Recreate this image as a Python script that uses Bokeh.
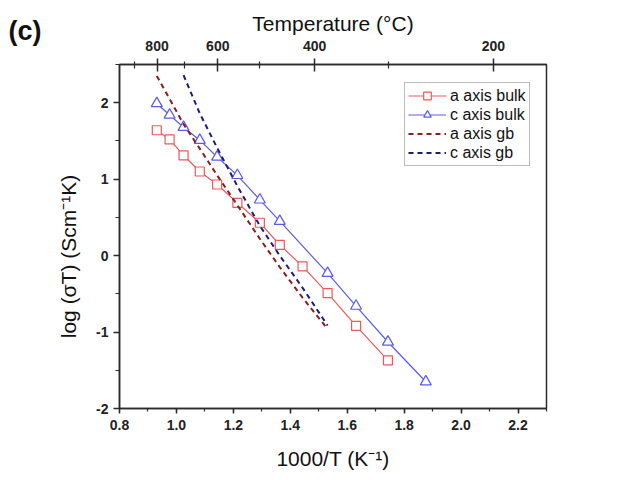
from bokeh.plotting import figure
from bokeh.models import (LinearAxis, FixedTicker, Legend, LegendItem, Label, Range1d)
from bokeh.embed import file_html
from bokeh.resources import INLINE

# ---- data ----
inv_T_a_bulk = [0.931, 0.976, 1.025, 1.082, 1.143, 1.214, 1.293, 1.363, 1.443, 1.531, 1.631, 1.743]
log_sT_a_bulk = [1.64, 1.52, 1.31, 1.10, 0.93, 0.69, 0.43, 0.14, -0.14, -0.49, -0.92, -1.37]

inv_T_c_bulk = [0.931, 0.976, 1.025, 1.082, 1.143, 1.214, 1.293, 1.363, 1.531, 1.631, 1.743, 1.876]
log_sT_c_bulk = [1.99, 1.84, 1.68, 1.51, 1.29, 1.05, 0.73, 0.45, -0.23, -0.66, -1.13, -1.65]

inv_T_a_gb = [0.931, 0.976, 1.025, 1.082, 1.143, 1.214, 1.293, 1.363, 1.443, 1.531]
log_sT_a_gb = [2.35, 2.05, 1.72, 1.40, 1.05, 0.66, 0.22, -0.15, -0.55, -0.96]

inv_T_c_gb = [1.025, 1.082, 1.143, 1.214, 1.293, 1.363, 1.443, 1.531]
log_sT_c_gb = [2.36, 1.86, 1.41, 0.91, 0.39, 0.00, -0.42, -0.915]

x_ticks = [0.8, 1.0, 1.2, 1.4, 1.6, 1.8, 2.0, 2.2]
x_tick_labels = ["0.8", "1.0", "1.2", "1.4", "1.6", "1.8", "2.0", "2.2"]
y_ticks = [-2, -1, 0, 1, 2]
y_tick_labels = ["-2", "-1", "0", "1", "2"]
temp_major = [800, 600, 400, 200]
temp_minor = [900, 700, 500, 300]

FONT = "Liberation Sans"
AX = "#2a2a2a"
W, H = 626, 480

p = figure(width=W, height=H, output_backend="svg", toolbar_location=None,
           x_range=Range1d(0.8, 2.3), y_range=Range1d(-2.0, 2.5),
           min_border_left=119, min_border_right=80, min_border_top=64, min_border_bottom=72,
           background_fill_color="white", border_fill_color="white")
p.grid.visible = False
p.outline_line_color = AX
p.outline_line_width = 1.5

# bottom axis
xa = p.xaxis[0]
xa.ticker = FixedTicker(ticks=x_ticks, minor_ticks=[0.8 + 0.1 * i for i in range(16)])
xa.major_label_overrides = {t: s for t, s in zip(x_ticks, x_tick_labels)}
xa.axis_label = "1000/T (K\u207b\u00b9)"
# left axis
ya = p.yaxis[0]
ya.ticker = FixedTicker(ticks=y_ticks, minor_ticks=[-2 + 0.5 * i for i in range(10)])
ya.major_label_overrides = {t: s for t, s in zip(y_ticks, y_tick_labels)}

# top axis (temperature)
top_pos = [1000.0 / (t + 273.15) for t in temp_major]
top_minor = [1000.0 / (t + 273.15) for t in temp_minor]
ta = LinearAxis(ticker=FixedTicker(ticks=top_pos, minor_ticks=top_minor),
                axis_label="Temperature (\u00b0C)")
ta.major_label_overrides = {pos: str(t) for pos, t in zip(top_pos, temp_major)}
p.add_layout(ta, "above")

for ax in [xa, ya, ta]:
    ax.axis_line_color = AX
    ax.axis_line_width = 1.5
    ax.major_tick_line_color = AX
    ax.minor_tick_line_color = AX
    ax.major_tick_line_width = 1.5
    ax.minor_tick_line_width = 1.2
    ax.major_label_text_font = FONT
    ax.major_label_text_font_style = "bold"
    ax.major_label_text_font_size = "14px"
    ax.major_label_text_color = "#222222"
    ax.axis_label_text_font = FONT
    ax.axis_label_text_font_style = "normal"
    ax.axis_label_text_font_size = "21px"
    ax.axis_label_text_color = "#111111"

xa.major_tick_in = 0; xa.major_tick_out = 5
xa.minor_tick_in = 0; xa.minor_tick_out = 3
xa.major_label_standoff = 6
xa.axis_label_standoff = 14
ya.major_tick_in = 0; ya.major_tick_out = 6
ya.minor_tick_in = 0; ya.minor_tick_out = 4
ya.major_label_standoff = 5
ta.major_tick_in = 7; ta.major_tick_out = 6
ta.minor_tick_in = 4; ta.minor_tick_out = 3
ta.major_label_standoff = 8
ta.axis_label_standoff = 3

# y label as free text in the left side panel
ylab = Label(x=-2, y=152, x_units="screen", y_units="screen",
             text="log (\u03c3T) (Scm\u207b\u00b9K)", angle=90, angle_units="deg",
             text_align="center", text_baseline="middle",
             text_font=FONT, text_font_size="21px", text_color="#111111")
p.add_layout(ylab, "left")

# panel letter, held in the (otherwise empty) right side panel
panel = Label(x=8 - 546, y=408 - 15, x_units="screen", y_units="screen", text="(c)",
              text_align="left", text_baseline="top",
              text_font=FONT, text_font_size="27px", text_font_style="bold",
              text_color="#111111")
p.add_layout(panel, "right")

RED = "#f05858"
BLUE = "#5a5af0"
DRED = "#8b1c1c"
NAVY = "#1c1c7c"

la = p.line(inv_T_a_bulk, log_sT_a_bulk, line_color=RED, line_width=1.2)
sa = p.scatter(inv_T_a_bulk, log_sT_a_bulk, marker="square", size=9,
               line_color=RED, fill_color="white", line_width=1.2)
lc = p.line(inv_T_c_bulk, log_sT_c_bulk, line_color=BLUE, line_width=1.2)
sc = p.scatter(inv_T_c_bulk, log_sT_c_bulk, marker="triangle", size=11,
               line_color=BLUE, fill_color="white", line_width=1.2)
ga = p.line(inv_T_a_gb, log_sT_a_gb, line_color=DRED, line_width=2, line_dash="5 4")
gc = p.line(inv_T_c_gb, log_sT_c_gb, line_color=NAVY, line_width=2, line_dash="5 4")

legend = Legend(items=[
    LegendItem(label="a axis bulk", renderers=[la, sa]),
    LegendItem(label="c axis bulk", renderers=[lc, sc]),
    LegendItem(label="a axis gb", renderers=[ga]),
    LegendItem(label="c axis gb", renderers=[gc]),
], location=(285, 242))
legend.label_text_font = FONT
legend.label_text_font_size = "16px"
legend.label_text_color = "#111111"
legend.glyph_width = 38
legend.glyph_height = 19
legend.label_height = 19
legend.label_standoff = 4
legend.spacing = 0
legend.padding = 3
legend.margin = 0
legend.border_line_color = "#777777"
legend.border_line_width = 1.2
legend.background_fill_color = "white"
p.add_layout(legend)

open("out.html", "w").write(file_html(p, INLINE))
